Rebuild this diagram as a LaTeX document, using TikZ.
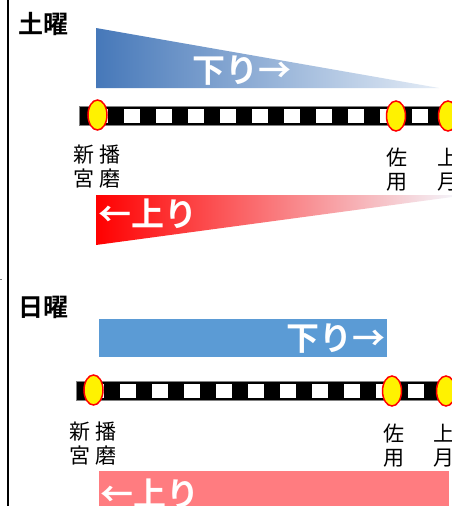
\documentclass[tikz,border=0pt]{standalone}
\usepackage{fontspec}
\usetikzlibrary{shapes.geometric}
\newfontfamily\jp{Noto Sans CJK JP}
\newfontfamily\jpb{Noto Sans CJK JP Bold}
\definecolor{blueL}{RGB}{70,120,185}
\definecolor{blueR}{RGB}{228,236,246}
\definecolor{redR}{RGB}{244,242,248}
\definecolor{flatblue}{RGB}{91,155,213}
\definecolor{flatpink}{RGB}{255,124,128}
\tikzset{
  x=1pt,y=-1pt,
  title/.style={font=\jpb\fontsize{25}{27}\selectfont, inner sep=0pt},
  dirtext/.style={font=\jpb\fontsize{33}{35}\selectfont, text=white, inner sep=0pt},
  lbl/.style={font=\jp\fontsize{21}{24}\selectfont, align=center, inner sep=0pt},
  station/.style={ellipse, draw=red, fill=yellow, line width=1.5pt, minimum width=19pt, minimum height=30pt, inner sep=0pt},
}
\begin{document}
\begin{tikzpicture}
\useasboundingbox (0,0) rectangle (452,506);
\fill[white] (0,0) rectangle (452,506);
% left frame line
\draw[line width=1.2pt] (8,0) -- (8,506);
\draw[gray, line width=0.6pt] (0,279) -- (2,279);

% ===== Saturday =====
\node[title] (sat) at (43,24) {土曜};
\shade[left color=blueL, right color=blueR] (96,28) -- (439,88) -- (96,88) -- cycle;
\node[dirtext] (down1) at (242,71) {下り→};
% track 1
\fill[black] (79,106) rectangle (460,125);
\draw[gray, line width=0.8pt] (79,106) -- (460,106);
\draw[gray, line width=0.8pt] (79,125) -- (460,125);
\draw[gray, line width=0.8pt] (79,106) -- (79,125);
\foreach \i in {0,...,11} { \fill[white] (92+32*\i,109) rectangle (108+32*\i,123); }
\node[station] (s1a) at (97.5,115) {};
\node[station] (s1b) at (396,116) {};
\node[station] (s1c) at (448,116) {};
\node[lbl] (l1a) at (97,167) {新\hspace{6pt}播\\宮\hspace{6pt}磨};
\node[lbl] (l1b) at (397,170) {佐\\用};
\node[lbl] (l1c) at (448,170) {上\\月};
\shade[left color=red, right color=redR] (96,195) -- (452,195) -- (452,197) -- (96,245) -- cycle;
\node[dirtext] (up1) at (148,214) {←上り};

% ===== Sunday =====
\node[title] (sun) at (43,307) {日曜};
\fill[flatblue] (99,319) rectangle (387,357);
\node[dirtext, anchor=east] (down2) at (386,339) {下り→};
% track 2
\fill[black] (76,381) rectangle (460,400);
\draw[gray, line width=0.8pt] (76,381) -- (460,381);
\draw[gray, line width=0.8pt] (76,400) -- (460,400);
\draw[gray, line width=0.8pt] (76,381) -- (76,400);
\foreach \i in {0,...,11} { \fill[white] (88+32*\i,384) rectangle (104+32*\i,398); }
\node[station] (s2a) at (93.5,390) {};
\node[station] (s2b) at (392,391) {};
\node[station] (s2c) at (446,391) {};
\node[lbl] (l2a) at (93,444) {新\hspace{6pt}播\\宮\hspace{6pt}磨};
\node[lbl] (l2b) at (394,446) {佐\\用};
\node[lbl] (l2c) at (444,446) {上\\月};
\fill[flatpink] (99,471) rectangle (449,510);
\node[dirtext] (up2) at (150,494) {←上り};
\end{tikzpicture}
\end{document}
